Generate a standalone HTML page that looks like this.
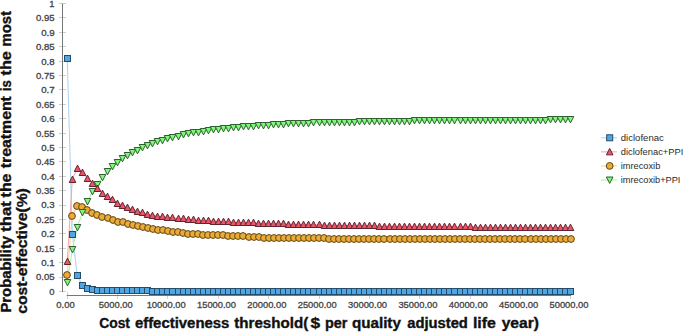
<!DOCTYPE html><html><head><meta charset="utf-8"><style>html,body{margin:0;padding:0;background:#fff;width:685px;height:332px;overflow:hidden}</style></head><body><svg width="685" height="332" viewBox="0 0 685 332" style="display:block">
<line x1="59" y1="291.50" x2="66" y2="291.50" stroke="#cfcfcf" stroke-width="1"/>
<text x="54.6" y="294.80" text-anchor="end" font-size="9" fill="#444" stroke="#444" stroke-width="0.3" font-family="Liberation Sans, sans-serif" textLength="5.22" lengthAdjust="spacingAndGlyphs">0</text>
<line x1="59" y1="277.50" x2="66" y2="277.50" stroke="#cfcfcf" stroke-width="1"/>
<text x="54.6" y="280.41" text-anchor="end" font-size="9" fill="#444" stroke="#444" stroke-width="0.3" font-family="Liberation Sans, sans-serif" textLength="18.63" lengthAdjust="spacingAndGlyphs">0.05</text>
<line x1="59" y1="262.50" x2="66" y2="262.50" stroke="#cfcfcf" stroke-width="1"/>
<text x="54.6" y="266.02" text-anchor="end" font-size="9" fill="#444" stroke="#444" stroke-width="0.3" font-family="Liberation Sans, sans-serif" textLength="13.42" lengthAdjust="spacingAndGlyphs">0.1</text>
<line x1="59" y1="248.50" x2="66" y2="248.50" stroke="#cfcfcf" stroke-width="1"/>
<text x="54.6" y="251.63" text-anchor="end" font-size="9" fill="#444" stroke="#444" stroke-width="0.3" font-family="Liberation Sans, sans-serif" textLength="18.63" lengthAdjust="spacingAndGlyphs">0.15</text>
<line x1="59" y1="233.50" x2="66" y2="233.50" stroke="#cfcfcf" stroke-width="1"/>
<text x="54.6" y="237.24" text-anchor="end" font-size="9" fill="#444" stroke="#444" stroke-width="0.3" font-family="Liberation Sans, sans-serif" textLength="13.42" lengthAdjust="spacingAndGlyphs">0.2</text>
<line x1="59" y1="219.50" x2="66" y2="219.50" stroke="#cfcfcf" stroke-width="1"/>
<text x="54.6" y="222.85" text-anchor="end" font-size="9" fill="#444" stroke="#444" stroke-width="0.3" font-family="Liberation Sans, sans-serif" textLength="18.63" lengthAdjust="spacingAndGlyphs">0.25</text>
<line x1="59" y1="205.50" x2="66" y2="205.50" stroke="#cfcfcf" stroke-width="1"/>
<text x="54.6" y="208.46" text-anchor="end" font-size="9" fill="#444" stroke="#444" stroke-width="0.3" font-family="Liberation Sans, sans-serif" textLength="13.42" lengthAdjust="spacingAndGlyphs">0.3</text>
<line x1="59" y1="190.50" x2="66" y2="190.50" stroke="#cfcfcf" stroke-width="1"/>
<text x="54.6" y="194.07" text-anchor="end" font-size="9" fill="#444" stroke="#444" stroke-width="0.3" font-family="Liberation Sans, sans-serif" textLength="18.63" lengthAdjust="spacingAndGlyphs">0.35</text>
<line x1="59" y1="176.50" x2="66" y2="176.50" stroke="#cfcfcf" stroke-width="1"/>
<text x="54.6" y="179.68" text-anchor="end" font-size="9" fill="#444" stroke="#444" stroke-width="0.3" font-family="Liberation Sans, sans-serif" textLength="13.42" lengthAdjust="spacingAndGlyphs">0.4</text>
<line x1="59" y1="161.50" x2="66" y2="161.50" stroke="#cfcfcf" stroke-width="1"/>
<text x="54.6" y="165.29" text-anchor="end" font-size="9" fill="#444" stroke="#444" stroke-width="0.3" font-family="Liberation Sans, sans-serif" textLength="18.63" lengthAdjust="spacingAndGlyphs">0.45</text>
<line x1="59" y1="147.50" x2="66" y2="147.50" stroke="#cfcfcf" stroke-width="1"/>
<text x="54.6" y="150.90" text-anchor="end" font-size="9" fill="#444" stroke="#444" stroke-width="0.3" font-family="Liberation Sans, sans-serif" textLength="13.42" lengthAdjust="spacingAndGlyphs">0.5</text>
<line x1="59" y1="133.50" x2="66" y2="133.50" stroke="#cfcfcf" stroke-width="1"/>
<text x="54.6" y="136.51" text-anchor="end" font-size="9" fill="#444" stroke="#444" stroke-width="0.3" font-family="Liberation Sans, sans-serif" textLength="18.63" lengthAdjust="spacingAndGlyphs">0.55</text>
<line x1="59" y1="118.50" x2="66" y2="118.50" stroke="#cfcfcf" stroke-width="1"/>
<text x="54.6" y="122.12" text-anchor="end" font-size="9" fill="#444" stroke="#444" stroke-width="0.3" font-family="Liberation Sans, sans-serif" textLength="13.42" lengthAdjust="spacingAndGlyphs">0.6</text>
<line x1="59" y1="104.50" x2="66" y2="104.50" stroke="#cfcfcf" stroke-width="1"/>
<text x="54.6" y="107.73" text-anchor="end" font-size="9" fill="#444" stroke="#444" stroke-width="0.3" font-family="Liberation Sans, sans-serif" textLength="18.63" lengthAdjust="spacingAndGlyphs">0.65</text>
<line x1="59" y1="89.50" x2="66" y2="89.50" stroke="#cfcfcf" stroke-width="1"/>
<text x="54.6" y="93.34" text-anchor="end" font-size="9" fill="#444" stroke="#444" stroke-width="0.3" font-family="Liberation Sans, sans-serif" textLength="13.42" lengthAdjust="spacingAndGlyphs">0.7</text>
<line x1="59" y1="75.50" x2="66" y2="75.50" stroke="#cfcfcf" stroke-width="1"/>
<text x="54.6" y="78.95" text-anchor="end" font-size="9" fill="#444" stroke="#444" stroke-width="0.3" font-family="Liberation Sans, sans-serif" textLength="18.63" lengthAdjust="spacingAndGlyphs">0.75</text>
<line x1="59" y1="61.50" x2="66" y2="61.50" stroke="#cfcfcf" stroke-width="1"/>
<text x="54.6" y="64.56" text-anchor="end" font-size="9" fill="#444" stroke="#444" stroke-width="0.3" font-family="Liberation Sans, sans-serif" textLength="13.42" lengthAdjust="spacingAndGlyphs">0.8</text>
<line x1="59" y1="46.50" x2="66" y2="46.50" stroke="#cfcfcf" stroke-width="1"/>
<text x="54.6" y="50.17" text-anchor="end" font-size="9" fill="#444" stroke="#444" stroke-width="0.3" font-family="Liberation Sans, sans-serif" textLength="18.63" lengthAdjust="spacingAndGlyphs">0.85</text>
<line x1="59" y1="32.50" x2="66" y2="32.50" stroke="#cfcfcf" stroke-width="1"/>
<text x="54.6" y="35.78" text-anchor="end" font-size="9" fill="#444" stroke="#444" stroke-width="0.3" font-family="Liberation Sans, sans-serif" textLength="13.42" lengthAdjust="spacingAndGlyphs">0.9</text>
<line x1="59" y1="17.50" x2="66" y2="17.50" stroke="#cfcfcf" stroke-width="1"/>
<text x="54.6" y="21.39" text-anchor="end" font-size="9" fill="#444" stroke="#444" stroke-width="0.3" font-family="Liberation Sans, sans-serif" textLength="18.63" lengthAdjust="spacingAndGlyphs">0.95</text>
<line x1="59" y1="3.50" x2="66" y2="3.50" stroke="#cfcfcf" stroke-width="1"/>
<text x="54.6" y="7.00" text-anchor="end" font-size="9" fill="#444" stroke="#444" stroke-width="0.3" font-family="Liberation Sans, sans-serif" textLength="5.22" lengthAdjust="spacingAndGlyphs">1</text>
<line x1="62.5" y1="3.60" x2="62.5" y2="291.90" stroke="#777" stroke-width="1"/>
<line x1="67.50" y1="292" x2="67.50" y2="299" stroke="#cfcfcf" stroke-width="1"/>
<text x="65.45" y="308.1" text-anchor="middle" font-size="9" fill="#444" stroke="#444" stroke-width="0.3" font-family="Liberation Sans, sans-serif" textLength="18.40" lengthAdjust="spacingAndGlyphs">0.00</text>
<line x1="117.50" y1="292" x2="117.50" y2="299" stroke="#cfcfcf" stroke-width="1"/>
<text x="115.80" y="308.1" text-anchor="middle" font-size="9" fill="#444" stroke="#444" stroke-width="0.3" font-family="Liberation Sans, sans-serif" textLength="33.86" lengthAdjust="spacingAndGlyphs">5000.00</text>
<line x1="167.50" y1="292" x2="167.50" y2="299" stroke="#cfcfcf" stroke-width="1"/>
<text x="166.16" y="308.1" text-anchor="middle" font-size="9" fill="#444" stroke="#444" stroke-width="0.3" font-family="Liberation Sans, sans-serif" textLength="39.01" lengthAdjust="spacingAndGlyphs">10000.00</text>
<line x1="218.50" y1="292" x2="218.50" y2="299" stroke="#cfcfcf" stroke-width="1"/>
<text x="216.51" y="308.1" text-anchor="middle" font-size="9" fill="#444" stroke="#444" stroke-width="0.3" font-family="Liberation Sans, sans-serif" textLength="39.01" lengthAdjust="spacingAndGlyphs">15000.00</text>
<line x1="268.50" y1="292" x2="268.50" y2="299" stroke="#cfcfcf" stroke-width="1"/>
<text x="266.87" y="308.1" text-anchor="middle" font-size="9" fill="#444" stroke="#444" stroke-width="0.3" font-family="Liberation Sans, sans-serif" textLength="39.01" lengthAdjust="spacingAndGlyphs">20000.00</text>
<line x1="319.50" y1="292" x2="319.50" y2="299" stroke="#cfcfcf" stroke-width="1"/>
<text x="317.22" y="308.1" text-anchor="middle" font-size="9" fill="#444" stroke="#444" stroke-width="0.3" font-family="Liberation Sans, sans-serif" textLength="39.01" lengthAdjust="spacingAndGlyphs">25000.00</text>
<line x1="369.50" y1="292" x2="369.50" y2="299" stroke="#cfcfcf" stroke-width="1"/>
<text x="367.58" y="308.1" text-anchor="middle" font-size="9" fill="#444" stroke="#444" stroke-width="0.3" font-family="Liberation Sans, sans-serif" textLength="39.01" lengthAdjust="spacingAndGlyphs">30000.00</text>
<line x1="419.50" y1="292" x2="419.50" y2="299" stroke="#cfcfcf" stroke-width="1"/>
<text x="417.94" y="308.1" text-anchor="middle" font-size="9" fill="#444" stroke="#444" stroke-width="0.3" font-family="Liberation Sans, sans-serif" textLength="39.01" lengthAdjust="spacingAndGlyphs">35000.00</text>
<line x1="470.50" y1="292" x2="470.50" y2="299" stroke="#cfcfcf" stroke-width="1"/>
<text x="468.29" y="308.1" text-anchor="middle" font-size="9" fill="#444" stroke="#444" stroke-width="0.3" font-family="Liberation Sans, sans-serif" textLength="39.01" lengthAdjust="spacingAndGlyphs">40000.00</text>
<line x1="520.50" y1="292" x2="520.50" y2="299" stroke="#cfcfcf" stroke-width="1"/>
<text x="518.64" y="308.1" text-anchor="middle" font-size="9" fill="#444" stroke="#444" stroke-width="0.3" font-family="Liberation Sans, sans-serif" textLength="39.01" lengthAdjust="spacingAndGlyphs">45000.00</text>
<line x1="570.50" y1="292" x2="570.50" y2="299" stroke="#cfcfcf" stroke-width="1"/>
<text x="569.00" y="308.1" text-anchor="middle" font-size="9" fill="#444" stroke="#444" stroke-width="0.3" font-family="Liberation Sans, sans-serif" textLength="39.01" lengthAdjust="spacingAndGlyphs">50000.00</text>
<line x1="66.75" y1="295.5" x2="571.30" y2="295.5" stroke="#777" stroke-width="1"/>
<path d="M67.25 58.57L72.29 234.13L77.32 275.71L82.36 285.64L87.39 288.09L92.43 289.39L97.46 290.10L102.50 290.31L107.53 290.45L112.57 290.54L117.60 290.54L122.64 290.54L127.68 290.54L132.71 290.54L137.75 290.54L142.78 290.54L147.82 290.54L152.85 291.17L157.89 291.17L162.92 291.17L167.96 291.17L173.00 291.17L178.03 291.17L183.07 291.17L188.10 291.17L193.14 291.17L198.17 291.17L203.21 291.17L208.24 291.17L213.28 291.17L218.31 291.17L223.35 291.17L228.39 291.17L233.42 291.17L238.46 291.17L243.49 291.17L248.53 291.17L253.56 291.17L258.60 291.17L263.63 291.17L268.67 291.17L273.71 291.17L278.74 291.17L283.78 291.17L288.81 291.17L293.85 291.17L298.88 291.17L303.92 291.17L308.95 291.17L313.99 291.17L319.02 291.17L324.06 291.17L329.10 291.17L334.13 291.17L339.17 291.17L344.20 291.17L349.24 291.17L354.27 291.17L359.31 291.17L364.34 291.17L369.38 291.17L374.42 291.17L379.45 291.17L384.49 291.17L389.52 291.17L394.56 291.17L399.59 291.17L404.63 291.17L409.66 291.17L414.70 291.17L419.74 291.17L424.77 291.17L429.81 291.17L434.84 291.17L439.88 291.17L444.91 291.17L449.95 291.17L454.98 291.17L460.02 291.17L465.05 291.17L470.09 291.17L475.13 291.17L480.16 291.17L485.20 291.17L490.23 291.17L495.27 291.17L500.30 291.17L505.34 291.17L510.37 291.17L515.41 291.17L520.44 291.17L525.48 291.17L530.52 291.17L535.55 291.17L540.59 291.17L545.62 291.17L550.66 291.17L555.69 291.17L560.73 291.17L565.76 291.17L570.80 291.17" fill="none" stroke="#a8d2f2" stroke-width="1"/>
<path d="M67.25 275.00L72.29 216.00L77.32 205.64L82.36 207.30L87.39 209.66L92.43 213.12L97.46 215.42L102.50 216.86L107.53 218.30L112.57 219.74L117.60 221.61L122.64 222.41L127.68 223.91L132.71 225.41L137.75 226.10L142.78 226.93L147.82 228.00L152.85 228.89L157.89 229.61L162.92 229.90L167.96 230.67L173.00 231.60L178.03 232.20L183.07 232.89L188.10 233.70L193.14 234.08L198.17 234.40L203.21 234.66L208.24 234.88L213.28 235.07L218.31 235.24L223.35 235.44L228.39 235.65L233.42 235.87L238.46 236.13L243.49 236.42L248.53 236.72L253.56 237.03L258.60 237.33L263.63 237.62L268.67 237.88L273.71 238.07L278.74 238.22L283.78 238.30L288.81 238.34L293.85 238.37L298.88 238.39L303.92 238.41L308.95 238.43L313.99 238.44L319.02 238.46L324.06 238.48L329.10 238.51L334.13 238.54L339.17 238.59L344.20 238.64L349.24 238.69L354.27 238.75L359.31 238.81L364.34 238.87L369.38 238.92L374.42 238.97L379.45 239.00L384.49 239.03L389.52 239.06L394.56 239.09L399.59 239.12L404.63 239.15L409.66 239.18L414.70 239.20L419.74 239.23L424.77 239.25L429.81 239.27L434.84 239.29L439.88 239.31L444.91 239.33L449.95 239.35L454.98 239.36L460.02 239.37L465.05 239.39L470.09 239.40L475.13 239.41L480.16 239.41L485.20 239.42L490.23 239.43L495.27 239.43L500.30 239.44L505.34 239.45L510.37 239.45L515.41 239.46L520.44 239.46L525.48 239.47L530.52 239.47L535.55 239.48L540.59 239.48L545.62 239.49L550.66 239.49L555.69 239.49L560.73 239.49L565.76 239.49L570.80 239.49" fill="none" stroke="#f7d08e" stroke-width="1"/>
<path d="M67.25 282.40L72.29 249.52L77.32 227.34L82.36 212.77L87.39 201.93L92.43 191.38L97.46 184.29L102.50 177.66L107.53 171.60L112.57 166.43L117.60 162.09L122.64 158.13L127.68 155.10L132.71 152.32L137.75 150.11L142.78 147.20L147.82 145.07L152.85 143.34L157.89 141.62L162.92 140.01L167.96 138.74L173.00 137.59L178.03 136.14L183.07 134.78L188.10 133.83L193.14 132.99L198.17 132.21L203.21 131.40L208.24 130.63L213.28 129.89L218.31 129.18L223.35 128.74L228.39 128.29L233.42 127.84L238.46 127.40L243.49 126.96L248.53 126.53L253.56 126.12L258.60 125.73L263.63 125.36L268.67 125.01L273.71 124.69L278.74 124.39L283.78 124.13L288.81 123.89L293.85 123.67L298.88 123.47L303.92 123.28L308.95 123.10L313.99 122.94L319.02 122.79L324.06 122.66L329.10 122.54L334.13 122.42L339.17 122.32L344.20 122.22L349.24 122.13L354.27 122.05L359.31 121.96L364.34 121.88L369.38 121.80L374.42 121.71L379.45 121.62L384.49 121.53L389.52 121.43L394.56 121.32L399.59 121.22L404.63 121.11L409.66 121.00L414.70 120.90L419.74 120.79L424.77 120.70L429.81 120.61L434.84 120.52L439.88 120.45L444.91 120.38L449.95 120.33L454.98 120.29L460.02 120.26L465.05 120.25L470.09 120.24L475.13 120.23L480.16 120.23L485.20 120.22L490.23 120.22L495.27 120.21L500.30 120.21L505.34 120.21L510.37 120.20L515.41 120.19L520.44 120.18L525.48 120.16L530.52 120.14L535.55 120.11L540.59 120.07L545.62 120.04L550.66 119.99L555.69 119.95L560.73 119.90L565.76 119.85L570.80 119.80" fill="none" stroke="#a8f0a4" stroke-width="1"/>
<path d="M67.25 261.61L72.29 179.45L77.32 168.22L82.36 172.25L87.39 178.29L92.43 183.47L97.46 188.94L102.50 193.55L107.53 196.71L112.57 199.88L117.60 203.33L122.64 205.78L127.68 207.36L132.71 209.63L137.75 211.03L142.78 212.75L147.82 214.31L152.85 215.35L157.89 216.09L162.92 216.90L167.96 217.36L173.00 217.89L178.03 218.27L183.07 218.94L188.10 219.32L193.14 219.69L198.17 220.05L203.21 220.40L208.24 220.73L213.28 221.05L218.31 221.35L223.35 221.64L228.39 221.90L233.42 222.14L238.46 222.36L243.49 222.57L248.53 222.76L253.56 222.94L258.60 223.11L263.63 223.28L268.67 223.44L273.71 223.59L278.74 223.75L283.78 223.90L288.81 224.05L293.85 224.20L298.88 224.35L303.92 224.49L308.95 224.63L313.99 224.76L319.02 224.89L324.06 225.02L329.10 225.13L334.13 225.24L339.17 225.35L344.20 225.45L349.24 225.55L354.27 225.65L359.31 225.75L364.34 225.83L369.38 225.92L374.42 225.99L379.45 226.06L384.49 226.13L389.52 226.19L394.56 226.25L399.59 226.32L404.63 226.38L409.66 226.43L414.70 226.49L419.74 226.55L424.77 226.60L429.81 226.65L434.84 226.70L439.88 226.74L444.91 226.79L449.95 226.83L454.98 226.87L460.02 226.90L465.05 226.93L470.09 226.96L475.13 227.03L480.16 227.11L485.20 227.17L490.23 227.24L495.27 227.30L500.30 227.36L505.34 227.42L510.37 227.48L515.41 227.50L520.44 227.51L525.48 227.52L530.52 227.53L535.55 227.55L540.59 227.57L545.62 227.59L550.66 227.62L555.69 227.65L560.73 227.70L565.76 227.74L570.80 227.79" fill="none" stroke="#f5a3b2" stroke-width="1"/>
<rect x="64.50" y="55.50" width="6" height="6" fill="#50a6e2" stroke="#264c6c" stroke-width="1"/>
<rect x="69.50" y="231.50" width="6" height="6" fill="#50a6e2" stroke="#264c6c" stroke-width="1"/>
<rect x="74.50" y="272.50" width="6" height="6" fill="#50a6e2" stroke="#264c6c" stroke-width="1"/>
<rect x="79.50" y="282.50" width="6" height="6" fill="#50a6e2" stroke="#264c6c" stroke-width="1"/>
<rect x="84.50" y="285.50" width="6" height="6" fill="#50a6e2" stroke="#264c6c" stroke-width="1"/>
<rect x="89.50" y="286.50" width="6" height="6" fill="#50a6e2" stroke="#264c6c" stroke-width="1"/>
<rect x="94.50" y="287.50" width="6" height="6" fill="#50a6e2" stroke="#264c6c" stroke-width="1"/>
<rect x="99.50" y="287.50" width="6" height="6" fill="#50a6e2" stroke="#264c6c" stroke-width="1"/>
<rect x="104.50" y="287.50" width="6" height="6" fill="#50a6e2" stroke="#264c6c" stroke-width="1"/>
<rect x="109.50" y="287.50" width="6" height="6" fill="#50a6e2" stroke="#264c6c" stroke-width="1"/>
<rect x="114.50" y="287.50" width="6" height="6" fill="#50a6e2" stroke="#264c6c" stroke-width="1"/>
<rect x="119.50" y="287.50" width="6" height="6" fill="#50a6e2" stroke="#264c6c" stroke-width="1"/>
<rect x="124.50" y="287.50" width="6" height="6" fill="#50a6e2" stroke="#264c6c" stroke-width="1"/>
<rect x="129.50" y="287.50" width="6" height="6" fill="#50a6e2" stroke="#264c6c" stroke-width="1"/>
<rect x="134.50" y="287.50" width="6" height="6" fill="#50a6e2" stroke="#264c6c" stroke-width="1"/>
<rect x="139.50" y="287.50" width="6" height="6" fill="#50a6e2" stroke="#264c6c" stroke-width="1"/>
<rect x="144.50" y="287.50" width="6" height="6" fill="#50a6e2" stroke="#264c6c" stroke-width="1"/>
<rect x="149.50" y="288.50" width="6" height="6" fill="#50a6e2" stroke="#264c6c" stroke-width="1"/>
<rect x="154.50" y="288.50" width="6" height="6" fill="#50a6e2" stroke="#264c6c" stroke-width="1"/>
<rect x="159.50" y="288.50" width="6" height="6" fill="#50a6e2" stroke="#264c6c" stroke-width="1"/>
<rect x="164.50" y="288.50" width="6" height="6" fill="#50a6e2" stroke="#264c6c" stroke-width="1"/>
<rect x="169.50" y="288.50" width="6" height="6" fill="#50a6e2" stroke="#264c6c" stroke-width="1"/>
<rect x="175.50" y="288.50" width="6" height="6" fill="#50a6e2" stroke="#264c6c" stroke-width="1"/>
<rect x="180.50" y="288.50" width="6" height="6" fill="#50a6e2" stroke="#264c6c" stroke-width="1"/>
<rect x="185.50" y="288.50" width="6" height="6" fill="#50a6e2" stroke="#264c6c" stroke-width="1"/>
<rect x="190.50" y="288.50" width="6" height="6" fill="#50a6e2" stroke="#264c6c" stroke-width="1"/>
<rect x="195.50" y="288.50" width="6" height="6" fill="#50a6e2" stroke="#264c6c" stroke-width="1"/>
<rect x="200.50" y="288.50" width="6" height="6" fill="#50a6e2" stroke="#264c6c" stroke-width="1"/>
<rect x="205.50" y="288.50" width="6" height="6" fill="#50a6e2" stroke="#264c6c" stroke-width="1"/>
<rect x="210.50" y="288.50" width="6" height="6" fill="#50a6e2" stroke="#264c6c" stroke-width="1"/>
<rect x="215.50" y="288.50" width="6" height="6" fill="#50a6e2" stroke="#264c6c" stroke-width="1"/>
<rect x="220.50" y="288.50" width="6" height="6" fill="#50a6e2" stroke="#264c6c" stroke-width="1"/>
<rect x="225.50" y="288.50" width="6" height="6" fill="#50a6e2" stroke="#264c6c" stroke-width="1"/>
<rect x="230.50" y="288.50" width="6" height="6" fill="#50a6e2" stroke="#264c6c" stroke-width="1"/>
<rect x="235.50" y="288.50" width="6" height="6" fill="#50a6e2" stroke="#264c6c" stroke-width="1"/>
<rect x="240.50" y="288.50" width="6" height="6" fill="#50a6e2" stroke="#264c6c" stroke-width="1"/>
<rect x="245.50" y="288.50" width="6" height="6" fill="#50a6e2" stroke="#264c6c" stroke-width="1"/>
<rect x="250.50" y="288.50" width="6" height="6" fill="#50a6e2" stroke="#264c6c" stroke-width="1"/>
<rect x="255.50" y="288.50" width="6" height="6" fill="#50a6e2" stroke="#264c6c" stroke-width="1"/>
<rect x="260.50" y="288.50" width="6" height="6" fill="#50a6e2" stroke="#264c6c" stroke-width="1"/>
<rect x="265.50" y="288.50" width="6" height="6" fill="#50a6e2" stroke="#264c6c" stroke-width="1"/>
<rect x="270.50" y="288.50" width="6" height="6" fill="#50a6e2" stroke="#264c6c" stroke-width="1"/>
<rect x="275.50" y="288.50" width="6" height="6" fill="#50a6e2" stroke="#264c6c" stroke-width="1"/>
<rect x="280.50" y="288.50" width="6" height="6" fill="#50a6e2" stroke="#264c6c" stroke-width="1"/>
<rect x="285.50" y="288.50" width="6" height="6" fill="#50a6e2" stroke="#264c6c" stroke-width="1"/>
<rect x="290.50" y="288.50" width="6" height="6" fill="#50a6e2" stroke="#264c6c" stroke-width="1"/>
<rect x="295.50" y="288.50" width="6" height="6" fill="#50a6e2" stroke="#264c6c" stroke-width="1"/>
<rect x="300.50" y="288.50" width="6" height="6" fill="#50a6e2" stroke="#264c6c" stroke-width="1"/>
<rect x="305.50" y="288.50" width="6" height="6" fill="#50a6e2" stroke="#264c6c" stroke-width="1"/>
<rect x="310.50" y="288.50" width="6" height="6" fill="#50a6e2" stroke="#264c6c" stroke-width="1"/>
<rect x="316.50" y="288.50" width="6" height="6" fill="#50a6e2" stroke="#264c6c" stroke-width="1"/>
<rect x="321.50" y="288.50" width="6" height="6" fill="#50a6e2" stroke="#264c6c" stroke-width="1"/>
<rect x="326.50" y="288.50" width="6" height="6" fill="#50a6e2" stroke="#264c6c" stroke-width="1"/>
<rect x="331.50" y="288.50" width="6" height="6" fill="#50a6e2" stroke="#264c6c" stroke-width="1"/>
<rect x="336.50" y="288.50" width="6" height="6" fill="#50a6e2" stroke="#264c6c" stroke-width="1"/>
<rect x="341.50" y="288.50" width="6" height="6" fill="#50a6e2" stroke="#264c6c" stroke-width="1"/>
<rect x="346.50" y="288.50" width="6" height="6" fill="#50a6e2" stroke="#264c6c" stroke-width="1"/>
<rect x="351.50" y="288.50" width="6" height="6" fill="#50a6e2" stroke="#264c6c" stroke-width="1"/>
<rect x="356.50" y="288.50" width="6" height="6" fill="#50a6e2" stroke="#264c6c" stroke-width="1"/>
<rect x="361.50" y="288.50" width="6" height="6" fill="#50a6e2" stroke="#264c6c" stroke-width="1"/>
<rect x="366.50" y="288.50" width="6" height="6" fill="#50a6e2" stroke="#264c6c" stroke-width="1"/>
<rect x="371.50" y="288.50" width="6" height="6" fill="#50a6e2" stroke="#264c6c" stroke-width="1"/>
<rect x="376.50" y="288.50" width="6" height="6" fill="#50a6e2" stroke="#264c6c" stroke-width="1"/>
<rect x="381.50" y="288.50" width="6" height="6" fill="#50a6e2" stroke="#264c6c" stroke-width="1"/>
<rect x="386.50" y="288.50" width="6" height="6" fill="#50a6e2" stroke="#264c6c" stroke-width="1"/>
<rect x="391.50" y="288.50" width="6" height="6" fill="#50a6e2" stroke="#264c6c" stroke-width="1"/>
<rect x="396.50" y="288.50" width="6" height="6" fill="#50a6e2" stroke="#264c6c" stroke-width="1"/>
<rect x="401.50" y="288.50" width="6" height="6" fill="#50a6e2" stroke="#264c6c" stroke-width="1"/>
<rect x="406.50" y="288.50" width="6" height="6" fill="#50a6e2" stroke="#264c6c" stroke-width="1"/>
<rect x="411.50" y="288.50" width="6" height="6" fill="#50a6e2" stroke="#264c6c" stroke-width="1"/>
<rect x="416.50" y="288.50" width="6" height="6" fill="#50a6e2" stroke="#264c6c" stroke-width="1"/>
<rect x="421.50" y="288.50" width="6" height="6" fill="#50a6e2" stroke="#264c6c" stroke-width="1"/>
<rect x="426.50" y="288.50" width="6" height="6" fill="#50a6e2" stroke="#264c6c" stroke-width="1"/>
<rect x="431.50" y="288.50" width="6" height="6" fill="#50a6e2" stroke="#264c6c" stroke-width="1"/>
<rect x="436.50" y="288.50" width="6" height="6" fill="#50a6e2" stroke="#264c6c" stroke-width="1"/>
<rect x="441.50" y="288.50" width="6" height="6" fill="#50a6e2" stroke="#264c6c" stroke-width="1"/>
<rect x="446.50" y="288.50" width="6" height="6" fill="#50a6e2" stroke="#264c6c" stroke-width="1"/>
<rect x="451.50" y="288.50" width="6" height="6" fill="#50a6e2" stroke="#264c6c" stroke-width="1"/>
<rect x="457.50" y="288.50" width="6" height="6" fill="#50a6e2" stroke="#264c6c" stroke-width="1"/>
<rect x="462.50" y="288.50" width="6" height="6" fill="#50a6e2" stroke="#264c6c" stroke-width="1"/>
<rect x="467.50" y="288.50" width="6" height="6" fill="#50a6e2" stroke="#264c6c" stroke-width="1"/>
<rect x="472.50" y="288.50" width="6" height="6" fill="#50a6e2" stroke="#264c6c" stroke-width="1"/>
<rect x="477.50" y="288.50" width="6" height="6" fill="#50a6e2" stroke="#264c6c" stroke-width="1"/>
<rect x="482.50" y="288.50" width="6" height="6" fill="#50a6e2" stroke="#264c6c" stroke-width="1"/>
<rect x="487.50" y="288.50" width="6" height="6" fill="#50a6e2" stroke="#264c6c" stroke-width="1"/>
<rect x="492.50" y="288.50" width="6" height="6" fill="#50a6e2" stroke="#264c6c" stroke-width="1"/>
<rect x="497.50" y="288.50" width="6" height="6" fill="#50a6e2" stroke="#264c6c" stroke-width="1"/>
<rect x="502.50" y="288.50" width="6" height="6" fill="#50a6e2" stroke="#264c6c" stroke-width="1"/>
<rect x="507.50" y="288.50" width="6" height="6" fill="#50a6e2" stroke="#264c6c" stroke-width="1"/>
<rect x="512.50" y="288.50" width="6" height="6" fill="#50a6e2" stroke="#264c6c" stroke-width="1"/>
<rect x="517.50" y="288.50" width="6" height="6" fill="#50a6e2" stroke="#264c6c" stroke-width="1"/>
<rect x="522.50" y="288.50" width="6" height="6" fill="#50a6e2" stroke="#264c6c" stroke-width="1"/>
<rect x="527.50" y="288.50" width="6" height="6" fill="#50a6e2" stroke="#264c6c" stroke-width="1"/>
<rect x="532.50" y="288.50" width="6" height="6" fill="#50a6e2" stroke="#264c6c" stroke-width="1"/>
<rect x="537.50" y="288.50" width="6" height="6" fill="#50a6e2" stroke="#264c6c" stroke-width="1"/>
<rect x="542.50" y="288.50" width="6" height="6" fill="#50a6e2" stroke="#264c6c" stroke-width="1"/>
<rect x="547.50" y="288.50" width="6" height="6" fill="#50a6e2" stroke="#264c6c" stroke-width="1"/>
<rect x="552.50" y="288.50" width="6" height="6" fill="#50a6e2" stroke="#264c6c" stroke-width="1"/>
<rect x="557.50" y="288.50" width="6" height="6" fill="#50a6e2" stroke="#264c6c" stroke-width="1"/>
<rect x="562.50" y="288.50" width="6" height="6" fill="#50a6e2" stroke="#264c6c" stroke-width="1"/>
<rect x="567.50" y="288.50" width="6" height="6" fill="#50a6e2" stroke="#264c6c" stroke-width="1"/>
<circle cx="67.00" cy="275.00" r="3.4" fill="#ebab36" stroke="#5e4618" stroke-width="1"/>
<circle cx="72.00" cy="216.00" r="3.4" fill="#ebab36" stroke="#5e4618" stroke-width="1"/>
<circle cx="77.00" cy="206.00" r="3.4" fill="#ebab36" stroke="#5e4618" stroke-width="1"/>
<circle cx="82.00" cy="207.00" r="3.4" fill="#ebab36" stroke="#5e4618" stroke-width="1"/>
<circle cx="87.00" cy="210.00" r="3.4" fill="#ebab36" stroke="#5e4618" stroke-width="1"/>
<circle cx="92.00" cy="213.00" r="3.4" fill="#ebab36" stroke="#5e4618" stroke-width="1"/>
<circle cx="97.00" cy="215.00" r="3.4" fill="#ebab36" stroke="#5e4618" stroke-width="1"/>
<circle cx="102.00" cy="217.00" r="3.4" fill="#ebab36" stroke="#5e4618" stroke-width="1"/>
<circle cx="108.00" cy="218.00" r="3.4" fill="#ebab36" stroke="#5e4618" stroke-width="1"/>
<circle cx="113.00" cy="220.00" r="3.4" fill="#ebab36" stroke="#5e4618" stroke-width="1"/>
<circle cx="118.00" cy="222.00" r="3.4" fill="#ebab36" stroke="#5e4618" stroke-width="1"/>
<circle cx="123.00" cy="222.00" r="3.4" fill="#ebab36" stroke="#5e4618" stroke-width="1"/>
<circle cx="128.00" cy="224.00" r="3.4" fill="#ebab36" stroke="#5e4618" stroke-width="1"/>
<circle cx="133.00" cy="225.00" r="3.4" fill="#ebab36" stroke="#5e4618" stroke-width="1"/>
<circle cx="138.00" cy="226.00" r="3.4" fill="#ebab36" stroke="#5e4618" stroke-width="1"/>
<circle cx="143.00" cy="227.00" r="3.4" fill="#ebab36" stroke="#5e4618" stroke-width="1"/>
<circle cx="148.00" cy="228.00" r="3.4" fill="#ebab36" stroke="#5e4618" stroke-width="1"/>
<circle cx="153.00" cy="229.00" r="3.4" fill="#ebab36" stroke="#5e4618" stroke-width="1"/>
<circle cx="158.00" cy="230.00" r="3.4" fill="#ebab36" stroke="#5e4618" stroke-width="1"/>
<circle cx="163.00" cy="230.00" r="3.4" fill="#ebab36" stroke="#5e4618" stroke-width="1"/>
<circle cx="168.00" cy="231.00" r="3.4" fill="#ebab36" stroke="#5e4618" stroke-width="1"/>
<circle cx="173.00" cy="232.00" r="3.4" fill="#ebab36" stroke="#5e4618" stroke-width="1"/>
<circle cx="178.00" cy="232.00" r="3.4" fill="#ebab36" stroke="#5e4618" stroke-width="1"/>
<circle cx="183.00" cy="233.00" r="3.4" fill="#ebab36" stroke="#5e4618" stroke-width="1"/>
<circle cx="188.00" cy="234.00" r="3.4" fill="#ebab36" stroke="#5e4618" stroke-width="1"/>
<circle cx="193.00" cy="234.00" r="3.4" fill="#ebab36" stroke="#5e4618" stroke-width="1"/>
<circle cx="198.00" cy="234.00" r="3.4" fill="#ebab36" stroke="#5e4618" stroke-width="1"/>
<circle cx="203.00" cy="235.00" r="3.4" fill="#ebab36" stroke="#5e4618" stroke-width="1"/>
<circle cx="208.00" cy="235.00" r="3.4" fill="#ebab36" stroke="#5e4618" stroke-width="1"/>
<circle cx="213.00" cy="235.00" r="3.4" fill="#ebab36" stroke="#5e4618" stroke-width="1"/>
<circle cx="218.00" cy="235.00" r="3.4" fill="#ebab36" stroke="#5e4618" stroke-width="1"/>
<circle cx="223.00" cy="235.00" r="3.4" fill="#ebab36" stroke="#5e4618" stroke-width="1"/>
<circle cx="228.00" cy="236.00" r="3.4" fill="#ebab36" stroke="#5e4618" stroke-width="1"/>
<circle cx="233.00" cy="236.00" r="3.4" fill="#ebab36" stroke="#5e4618" stroke-width="1"/>
<circle cx="238.00" cy="236.00" r="3.4" fill="#ebab36" stroke="#5e4618" stroke-width="1"/>
<circle cx="243.00" cy="236.00" r="3.4" fill="#ebab36" stroke="#5e4618" stroke-width="1"/>
<circle cx="249.00" cy="237.00" r="3.4" fill="#ebab36" stroke="#5e4618" stroke-width="1"/>
<circle cx="254.00" cy="237.00" r="3.4" fill="#ebab36" stroke="#5e4618" stroke-width="1"/>
<circle cx="259.00" cy="237.00" r="3.4" fill="#ebab36" stroke="#5e4618" stroke-width="1"/>
<circle cx="264.00" cy="238.00" r="3.4" fill="#ebab36" stroke="#5e4618" stroke-width="1"/>
<circle cx="269.00" cy="238.00" r="3.4" fill="#ebab36" stroke="#5e4618" stroke-width="1"/>
<circle cx="274.00" cy="238.00" r="3.4" fill="#ebab36" stroke="#5e4618" stroke-width="1"/>
<circle cx="279.00" cy="238.00" r="3.4" fill="#ebab36" stroke="#5e4618" stroke-width="1"/>
<circle cx="284.00" cy="238.00" r="3.4" fill="#ebab36" stroke="#5e4618" stroke-width="1"/>
<circle cx="289.00" cy="238.00" r="3.4" fill="#ebab36" stroke="#5e4618" stroke-width="1"/>
<circle cx="294.00" cy="238.00" r="3.4" fill="#ebab36" stroke="#5e4618" stroke-width="1"/>
<circle cx="299.00" cy="238.00" r="3.4" fill="#ebab36" stroke="#5e4618" stroke-width="1"/>
<circle cx="304.00" cy="238.00" r="3.4" fill="#ebab36" stroke="#5e4618" stroke-width="1"/>
<circle cx="309.00" cy="238.00" r="3.4" fill="#ebab36" stroke="#5e4618" stroke-width="1"/>
<circle cx="314.00" cy="238.00" r="3.4" fill="#ebab36" stroke="#5e4618" stroke-width="1"/>
<circle cx="319.00" cy="238.00" r="3.4" fill="#ebab36" stroke="#5e4618" stroke-width="1"/>
<circle cx="324.00" cy="238.00" r="3.4" fill="#ebab36" stroke="#5e4618" stroke-width="1"/>
<circle cx="329.00" cy="239.00" r="3.4" fill="#ebab36" stroke="#5e4618" stroke-width="1"/>
<circle cx="334.00" cy="239.00" r="3.4" fill="#ebab36" stroke="#5e4618" stroke-width="1"/>
<circle cx="339.00" cy="239.00" r="3.4" fill="#ebab36" stroke="#5e4618" stroke-width="1"/>
<circle cx="344.00" cy="239.00" r="3.4" fill="#ebab36" stroke="#5e4618" stroke-width="1"/>
<circle cx="349.00" cy="239.00" r="3.4" fill="#ebab36" stroke="#5e4618" stroke-width="1"/>
<circle cx="354.00" cy="239.00" r="3.4" fill="#ebab36" stroke="#5e4618" stroke-width="1"/>
<circle cx="359.00" cy="239.00" r="3.4" fill="#ebab36" stroke="#5e4618" stroke-width="1"/>
<circle cx="364.00" cy="239.00" r="3.4" fill="#ebab36" stroke="#5e4618" stroke-width="1"/>
<circle cx="369.00" cy="239.00" r="3.4" fill="#ebab36" stroke="#5e4618" stroke-width="1"/>
<circle cx="374.00" cy="239.00" r="3.4" fill="#ebab36" stroke="#5e4618" stroke-width="1"/>
<circle cx="379.00" cy="239.00" r="3.4" fill="#ebab36" stroke="#5e4618" stroke-width="1"/>
<circle cx="384.00" cy="239.00" r="3.4" fill="#ebab36" stroke="#5e4618" stroke-width="1"/>
<circle cx="390.00" cy="239.00" r="3.4" fill="#ebab36" stroke="#5e4618" stroke-width="1"/>
<circle cx="395.00" cy="239.00" r="3.4" fill="#ebab36" stroke="#5e4618" stroke-width="1"/>
<circle cx="400.00" cy="239.00" r="3.4" fill="#ebab36" stroke="#5e4618" stroke-width="1"/>
<circle cx="405.00" cy="239.00" r="3.4" fill="#ebab36" stroke="#5e4618" stroke-width="1"/>
<circle cx="410.00" cy="239.00" r="3.4" fill="#ebab36" stroke="#5e4618" stroke-width="1"/>
<circle cx="415.00" cy="239.00" r="3.4" fill="#ebab36" stroke="#5e4618" stroke-width="1"/>
<circle cx="420.00" cy="239.00" r="3.4" fill="#ebab36" stroke="#5e4618" stroke-width="1"/>
<circle cx="425.00" cy="239.00" r="3.4" fill="#ebab36" stroke="#5e4618" stroke-width="1"/>
<circle cx="430.00" cy="239.00" r="3.4" fill="#ebab36" stroke="#5e4618" stroke-width="1"/>
<circle cx="435.00" cy="239.00" r="3.4" fill="#ebab36" stroke="#5e4618" stroke-width="1"/>
<circle cx="440.00" cy="239.00" r="3.4" fill="#ebab36" stroke="#5e4618" stroke-width="1"/>
<circle cx="445.00" cy="239.00" r="3.4" fill="#ebab36" stroke="#5e4618" stroke-width="1"/>
<circle cx="450.00" cy="239.00" r="3.4" fill="#ebab36" stroke="#5e4618" stroke-width="1"/>
<circle cx="455.00" cy="239.00" r="3.4" fill="#ebab36" stroke="#5e4618" stroke-width="1"/>
<circle cx="460.00" cy="239.00" r="3.4" fill="#ebab36" stroke="#5e4618" stroke-width="1"/>
<circle cx="465.00" cy="239.00" r="3.4" fill="#ebab36" stroke="#5e4618" stroke-width="1"/>
<circle cx="470.00" cy="239.00" r="3.4" fill="#ebab36" stroke="#5e4618" stroke-width="1"/>
<circle cx="475.00" cy="239.00" r="3.4" fill="#ebab36" stroke="#5e4618" stroke-width="1"/>
<circle cx="480.00" cy="239.00" r="3.4" fill="#ebab36" stroke="#5e4618" stroke-width="1"/>
<circle cx="485.00" cy="239.00" r="3.4" fill="#ebab36" stroke="#5e4618" stroke-width="1"/>
<circle cx="490.00" cy="239.00" r="3.4" fill="#ebab36" stroke="#5e4618" stroke-width="1"/>
<circle cx="495.00" cy="239.00" r="3.4" fill="#ebab36" stroke="#5e4618" stroke-width="1"/>
<circle cx="500.00" cy="239.00" r="3.4" fill="#ebab36" stroke="#5e4618" stroke-width="1"/>
<circle cx="505.00" cy="239.00" r="3.4" fill="#ebab36" stroke="#5e4618" stroke-width="1"/>
<circle cx="510.00" cy="239.00" r="3.4" fill="#ebab36" stroke="#5e4618" stroke-width="1"/>
<circle cx="515.00" cy="239.00" r="3.4" fill="#ebab36" stroke="#5e4618" stroke-width="1"/>
<circle cx="520.00" cy="239.00" r="3.4" fill="#ebab36" stroke="#5e4618" stroke-width="1"/>
<circle cx="525.00" cy="239.00" r="3.4" fill="#ebab36" stroke="#5e4618" stroke-width="1"/>
<circle cx="531.00" cy="239.00" r="3.4" fill="#ebab36" stroke="#5e4618" stroke-width="1"/>
<circle cx="536.00" cy="239.00" r="3.4" fill="#ebab36" stroke="#5e4618" stroke-width="1"/>
<circle cx="541.00" cy="239.00" r="3.4" fill="#ebab36" stroke="#5e4618" stroke-width="1"/>
<circle cx="546.00" cy="239.00" r="3.4" fill="#ebab36" stroke="#5e4618" stroke-width="1"/>
<circle cx="551.00" cy="239.00" r="3.4" fill="#ebab36" stroke="#5e4618" stroke-width="1"/>
<circle cx="556.00" cy="239.00" r="3.4" fill="#ebab36" stroke="#5e4618" stroke-width="1"/>
<circle cx="561.00" cy="239.00" r="3.4" fill="#ebab36" stroke="#5e4618" stroke-width="1"/>
<circle cx="566.00" cy="239.00" r="3.4" fill="#ebab36" stroke="#5e4618" stroke-width="1"/>
<circle cx="571.00" cy="239.00" r="3.4" fill="#ebab36" stroke="#5e4618" stroke-width="1"/>
<path d="M67.50 285.90L70.80 279.50L64.20 279.50Z" fill="#80f87c" stroke="#2f5f2f" stroke-width="1" stroke-linejoin="round"/>
<path d="M72.50 252.90L75.80 246.50L69.20 246.50Z" fill="#80f87c" stroke="#2f5f2f" stroke-width="1" stroke-linejoin="round"/>
<path d="M77.50 230.90L80.80 224.50L74.20 224.50Z" fill="#80f87c" stroke="#2f5f2f" stroke-width="1" stroke-linejoin="round"/>
<path d="M82.50 215.90L85.80 209.50L79.20 209.50Z" fill="#80f87c" stroke="#2f5f2f" stroke-width="1" stroke-linejoin="round"/>
<path d="M87.50 204.90L90.80 198.50L84.20 198.50Z" fill="#80f87c" stroke="#2f5f2f" stroke-width="1" stroke-linejoin="round"/>
<path d="M92.50 194.90L95.80 188.50L89.20 188.50Z" fill="#80f87c" stroke="#2f5f2f" stroke-width="1" stroke-linejoin="round"/>
<path d="M97.50 187.90L100.80 181.50L94.20 181.50Z" fill="#80f87c" stroke="#2f5f2f" stroke-width="1" stroke-linejoin="round"/>
<path d="M102.50 180.90L105.80 174.50L99.20 174.50Z" fill="#80f87c" stroke="#2f5f2f" stroke-width="1" stroke-linejoin="round"/>
<path d="M107.50 174.90L110.80 168.50L104.20 168.50Z" fill="#80f87c" stroke="#2f5f2f" stroke-width="1" stroke-linejoin="round"/>
<path d="M112.50 169.90L115.80 163.50L109.20 163.50Z" fill="#80f87c" stroke="#2f5f2f" stroke-width="1" stroke-linejoin="round"/>
<path d="M117.50 165.90L120.80 159.50L114.20 159.50Z" fill="#80f87c" stroke="#2f5f2f" stroke-width="1" stroke-linejoin="round"/>
<path d="M122.50 161.90L125.80 155.50L119.20 155.50Z" fill="#80f87c" stroke="#2f5f2f" stroke-width="1" stroke-linejoin="round"/>
<path d="M127.50 158.90L130.80 152.50L124.20 152.50Z" fill="#80f87c" stroke="#2f5f2f" stroke-width="1" stroke-linejoin="round"/>
<path d="M132.50 155.90L135.80 149.50L129.20 149.50Z" fill="#80f87c" stroke="#2f5f2f" stroke-width="1" stroke-linejoin="round"/>
<path d="M137.50 153.90L140.80 147.50L134.20 147.50Z" fill="#80f87c" stroke="#2f5f2f" stroke-width="1" stroke-linejoin="round"/>
<path d="M142.50 150.90L145.80 144.50L139.20 144.50Z" fill="#80f87c" stroke="#2f5f2f" stroke-width="1" stroke-linejoin="round"/>
<path d="M147.50 148.90L150.80 142.50L144.20 142.50Z" fill="#80f87c" stroke="#2f5f2f" stroke-width="1" stroke-linejoin="round"/>
<path d="M152.50 146.90L155.80 140.50L149.20 140.50Z" fill="#80f87c" stroke="#2f5f2f" stroke-width="1" stroke-linejoin="round"/>
<path d="M157.50 144.90L160.80 138.50L154.20 138.50Z" fill="#80f87c" stroke="#2f5f2f" stroke-width="1" stroke-linejoin="round"/>
<path d="M162.50 143.90L165.80 137.50L159.20 137.50Z" fill="#80f87c" stroke="#2f5f2f" stroke-width="1" stroke-linejoin="round"/>
<path d="M167.50 141.90L170.80 135.50L164.20 135.50Z" fill="#80f87c" stroke="#2f5f2f" stroke-width="1" stroke-linejoin="round"/>
<path d="M172.50 140.90L175.80 134.50L169.20 134.50Z" fill="#80f87c" stroke="#2f5f2f" stroke-width="1" stroke-linejoin="round"/>
<path d="M178.50 139.90L181.80 133.50L175.20 133.50Z" fill="#80f87c" stroke="#2f5f2f" stroke-width="1" stroke-linejoin="round"/>
<path d="M183.50 137.90L186.80 131.50L180.20 131.50Z" fill="#80f87c" stroke="#2f5f2f" stroke-width="1" stroke-linejoin="round"/>
<path d="M188.50 136.90L191.80 130.50L185.20 130.50Z" fill="#80f87c" stroke="#2f5f2f" stroke-width="1" stroke-linejoin="round"/>
<path d="M193.50 135.90L196.80 129.50L190.20 129.50Z" fill="#80f87c" stroke="#2f5f2f" stroke-width="1" stroke-linejoin="round"/>
<path d="M198.50 135.90L201.80 129.50L195.20 129.50Z" fill="#80f87c" stroke="#2f5f2f" stroke-width="1" stroke-linejoin="round"/>
<path d="M203.50 134.90L206.80 128.50L200.20 128.50Z" fill="#80f87c" stroke="#2f5f2f" stroke-width="1" stroke-linejoin="round"/>
<path d="M208.50 133.90L211.80 127.50L205.20 127.50Z" fill="#80f87c" stroke="#2f5f2f" stroke-width="1" stroke-linejoin="round"/>
<path d="M213.50 132.90L216.80 126.50L210.20 126.50Z" fill="#80f87c" stroke="#2f5f2f" stroke-width="1" stroke-linejoin="round"/>
<path d="M218.50 132.90L221.80 126.50L215.20 126.50Z" fill="#80f87c" stroke="#2f5f2f" stroke-width="1" stroke-linejoin="round"/>
<path d="M223.50 131.90L226.80 125.50L220.20 125.50Z" fill="#80f87c" stroke="#2f5f2f" stroke-width="1" stroke-linejoin="round"/>
<path d="M228.50 131.90L231.80 125.50L225.20 125.50Z" fill="#80f87c" stroke="#2f5f2f" stroke-width="1" stroke-linejoin="round"/>
<path d="M233.50 130.90L236.80 124.50L230.20 124.50Z" fill="#80f87c" stroke="#2f5f2f" stroke-width="1" stroke-linejoin="round"/>
<path d="M238.50 130.90L241.80 124.50L235.20 124.50Z" fill="#80f87c" stroke="#2f5f2f" stroke-width="1" stroke-linejoin="round"/>
<path d="M243.50 129.90L246.80 123.50L240.20 123.50Z" fill="#80f87c" stroke="#2f5f2f" stroke-width="1" stroke-linejoin="round"/>
<path d="M248.50 129.90L251.80 123.50L245.20 123.50Z" fill="#80f87c" stroke="#2f5f2f" stroke-width="1" stroke-linejoin="round"/>
<path d="M253.50 129.90L256.80 123.50L250.20 123.50Z" fill="#80f87c" stroke="#2f5f2f" stroke-width="1" stroke-linejoin="round"/>
<path d="M258.50 128.90L261.80 122.50L255.20 122.50Z" fill="#80f87c" stroke="#2f5f2f" stroke-width="1" stroke-linejoin="round"/>
<path d="M263.50 128.90L266.80 122.50L260.20 122.50Z" fill="#80f87c" stroke="#2f5f2f" stroke-width="1" stroke-linejoin="round"/>
<path d="M268.50 128.90L271.80 122.50L265.20 122.50Z" fill="#80f87c" stroke="#2f5f2f" stroke-width="1" stroke-linejoin="round"/>
<path d="M273.50 127.90L276.80 121.50L270.20 121.50Z" fill="#80f87c" stroke="#2f5f2f" stroke-width="1" stroke-linejoin="round"/>
<path d="M278.50 127.90L281.80 121.50L275.20 121.50Z" fill="#80f87c" stroke="#2f5f2f" stroke-width="1" stroke-linejoin="round"/>
<path d="M283.50 127.90L286.80 121.50L280.20 121.50Z" fill="#80f87c" stroke="#2f5f2f" stroke-width="1" stroke-linejoin="round"/>
<path d="M288.50 126.90L291.80 120.50L285.20 120.50Z" fill="#80f87c" stroke="#2f5f2f" stroke-width="1" stroke-linejoin="round"/>
<path d="M293.50 126.90L296.80 120.50L290.20 120.50Z" fill="#80f87c" stroke="#2f5f2f" stroke-width="1" stroke-linejoin="round"/>
<path d="M298.50 126.90L301.80 120.50L295.20 120.50Z" fill="#80f87c" stroke="#2f5f2f" stroke-width="1" stroke-linejoin="round"/>
<path d="M303.50 126.90L306.80 120.50L300.20 120.50Z" fill="#80f87c" stroke="#2f5f2f" stroke-width="1" stroke-linejoin="round"/>
<path d="M308.50 126.90L311.80 120.50L305.20 120.50Z" fill="#80f87c" stroke="#2f5f2f" stroke-width="1" stroke-linejoin="round"/>
<path d="M313.50 125.90L316.80 119.50L310.20 119.50Z" fill="#80f87c" stroke="#2f5f2f" stroke-width="1" stroke-linejoin="round"/>
<path d="M319.50 125.90L322.80 119.50L316.20 119.50Z" fill="#80f87c" stroke="#2f5f2f" stroke-width="1" stroke-linejoin="round"/>
<path d="M324.50 125.90L327.80 119.50L321.20 119.50Z" fill="#80f87c" stroke="#2f5f2f" stroke-width="1" stroke-linejoin="round"/>
<path d="M329.50 125.90L332.80 119.50L326.20 119.50Z" fill="#80f87c" stroke="#2f5f2f" stroke-width="1" stroke-linejoin="round"/>
<path d="M334.50 125.90L337.80 119.50L331.20 119.50Z" fill="#80f87c" stroke="#2f5f2f" stroke-width="1" stroke-linejoin="round"/>
<path d="M339.50 125.90L342.80 119.50L336.20 119.50Z" fill="#80f87c" stroke="#2f5f2f" stroke-width="1" stroke-linejoin="round"/>
<path d="M344.50 125.90L347.80 119.50L341.20 119.50Z" fill="#80f87c" stroke="#2f5f2f" stroke-width="1" stroke-linejoin="round"/>
<path d="M349.50 125.90L352.80 119.50L346.20 119.50Z" fill="#80f87c" stroke="#2f5f2f" stroke-width="1" stroke-linejoin="round"/>
<path d="M354.50 125.90L357.80 119.50L351.20 119.50Z" fill="#80f87c" stroke="#2f5f2f" stroke-width="1" stroke-linejoin="round"/>
<path d="M359.50 124.90L362.80 118.50L356.20 118.50Z" fill="#80f87c" stroke="#2f5f2f" stroke-width="1" stroke-linejoin="round"/>
<path d="M364.50 124.90L367.80 118.50L361.20 118.50Z" fill="#80f87c" stroke="#2f5f2f" stroke-width="1" stroke-linejoin="round"/>
<path d="M369.50 124.90L372.80 118.50L366.20 118.50Z" fill="#80f87c" stroke="#2f5f2f" stroke-width="1" stroke-linejoin="round"/>
<path d="M374.50 124.90L377.80 118.50L371.20 118.50Z" fill="#80f87c" stroke="#2f5f2f" stroke-width="1" stroke-linejoin="round"/>
<path d="M379.50 124.90L382.80 118.50L376.20 118.50Z" fill="#80f87c" stroke="#2f5f2f" stroke-width="1" stroke-linejoin="round"/>
<path d="M384.50 124.90L387.80 118.50L381.20 118.50Z" fill="#80f87c" stroke="#2f5f2f" stroke-width="1" stroke-linejoin="round"/>
<path d="M389.50 124.90L392.80 118.50L386.20 118.50Z" fill="#80f87c" stroke="#2f5f2f" stroke-width="1" stroke-linejoin="round"/>
<path d="M394.50 124.90L397.80 118.50L391.20 118.50Z" fill="#80f87c" stroke="#2f5f2f" stroke-width="1" stroke-linejoin="round"/>
<path d="M399.50 124.90L402.80 118.50L396.20 118.50Z" fill="#80f87c" stroke="#2f5f2f" stroke-width="1" stroke-linejoin="round"/>
<path d="M404.50 124.90L407.80 118.50L401.20 118.50Z" fill="#80f87c" stroke="#2f5f2f" stroke-width="1" stroke-linejoin="round"/>
<path d="M409.50 124.90L412.80 118.50L406.20 118.50Z" fill="#80f87c" stroke="#2f5f2f" stroke-width="1" stroke-linejoin="round"/>
<path d="M414.50 123.90L417.80 117.50L411.20 117.50Z" fill="#80f87c" stroke="#2f5f2f" stroke-width="1" stroke-linejoin="round"/>
<path d="M419.50 123.90L422.80 117.50L416.20 117.50Z" fill="#80f87c" stroke="#2f5f2f" stroke-width="1" stroke-linejoin="round"/>
<path d="M424.50 123.90L427.80 117.50L421.20 117.50Z" fill="#80f87c" stroke="#2f5f2f" stroke-width="1" stroke-linejoin="round"/>
<path d="M429.50 123.90L432.80 117.50L426.20 117.50Z" fill="#80f87c" stroke="#2f5f2f" stroke-width="1" stroke-linejoin="round"/>
<path d="M434.50 123.90L437.80 117.50L431.20 117.50Z" fill="#80f87c" stroke="#2f5f2f" stroke-width="1" stroke-linejoin="round"/>
<path d="M439.50 123.90L442.80 117.50L436.20 117.50Z" fill="#80f87c" stroke="#2f5f2f" stroke-width="1" stroke-linejoin="round"/>
<path d="M444.50 123.90L447.80 117.50L441.20 117.50Z" fill="#80f87c" stroke="#2f5f2f" stroke-width="1" stroke-linejoin="round"/>
<path d="M449.50 123.90L452.80 117.50L446.20 117.50Z" fill="#80f87c" stroke="#2f5f2f" stroke-width="1" stroke-linejoin="round"/>
<path d="M454.50 123.90L457.80 117.50L451.20 117.50Z" fill="#80f87c" stroke="#2f5f2f" stroke-width="1" stroke-linejoin="round"/>
<path d="M460.50 123.90L463.80 117.50L457.20 117.50Z" fill="#80f87c" stroke="#2f5f2f" stroke-width="1" stroke-linejoin="round"/>
<path d="M465.50 123.90L468.80 117.50L462.20 117.50Z" fill="#80f87c" stroke="#2f5f2f" stroke-width="1" stroke-linejoin="round"/>
<path d="M470.50 123.90L473.80 117.50L467.20 117.50Z" fill="#80f87c" stroke="#2f5f2f" stroke-width="1" stroke-linejoin="round"/>
<path d="M475.50 123.90L478.80 117.50L472.20 117.50Z" fill="#80f87c" stroke="#2f5f2f" stroke-width="1" stroke-linejoin="round"/>
<path d="M480.50 123.90L483.80 117.50L477.20 117.50Z" fill="#80f87c" stroke="#2f5f2f" stroke-width="1" stroke-linejoin="round"/>
<path d="M485.50 123.90L488.80 117.50L482.20 117.50Z" fill="#80f87c" stroke="#2f5f2f" stroke-width="1" stroke-linejoin="round"/>
<path d="M490.50 123.90L493.80 117.50L487.20 117.50Z" fill="#80f87c" stroke="#2f5f2f" stroke-width="1" stroke-linejoin="round"/>
<path d="M495.50 123.90L498.80 117.50L492.20 117.50Z" fill="#80f87c" stroke="#2f5f2f" stroke-width="1" stroke-linejoin="round"/>
<path d="M500.50 123.90L503.80 117.50L497.20 117.50Z" fill="#80f87c" stroke="#2f5f2f" stroke-width="1" stroke-linejoin="round"/>
<path d="M505.50 123.90L508.80 117.50L502.20 117.50Z" fill="#80f87c" stroke="#2f5f2f" stroke-width="1" stroke-linejoin="round"/>
<path d="M510.50 123.90L513.80 117.50L507.20 117.50Z" fill="#80f87c" stroke="#2f5f2f" stroke-width="1" stroke-linejoin="round"/>
<path d="M515.50 123.90L518.80 117.50L512.20 117.50Z" fill="#80f87c" stroke="#2f5f2f" stroke-width="1" stroke-linejoin="round"/>
<path d="M520.50 123.90L523.80 117.50L517.20 117.50Z" fill="#80f87c" stroke="#2f5f2f" stroke-width="1" stroke-linejoin="round"/>
<path d="M525.50 123.90L528.80 117.50L522.20 117.50Z" fill="#80f87c" stroke="#2f5f2f" stroke-width="1" stroke-linejoin="round"/>
<path d="M530.50 123.90L533.80 117.50L527.20 117.50Z" fill="#80f87c" stroke="#2f5f2f" stroke-width="1" stroke-linejoin="round"/>
<path d="M535.50 123.90L538.80 117.50L532.20 117.50Z" fill="#80f87c" stroke="#2f5f2f" stroke-width="1" stroke-linejoin="round"/>
<path d="M540.50 123.90L543.80 117.50L537.20 117.50Z" fill="#80f87c" stroke="#2f5f2f" stroke-width="1" stroke-linejoin="round"/>
<path d="M545.50 123.90L548.80 117.50L542.20 117.50Z" fill="#80f87c" stroke="#2f5f2f" stroke-width="1" stroke-linejoin="round"/>
<path d="M550.50 122.90L553.80 116.50L547.20 116.50Z" fill="#80f87c" stroke="#2f5f2f" stroke-width="1" stroke-linejoin="round"/>
<path d="M555.50 122.90L558.80 116.50L552.20 116.50Z" fill="#80f87c" stroke="#2f5f2f" stroke-width="1" stroke-linejoin="round"/>
<path d="M560.50 122.90L563.80 116.50L557.20 116.50Z" fill="#80f87c" stroke="#2f5f2f" stroke-width="1" stroke-linejoin="round"/>
<path d="M565.50 122.90L568.80 116.50L562.20 116.50Z" fill="#80f87c" stroke="#2f5f2f" stroke-width="1" stroke-linejoin="round"/>
<path d="M570.50 122.90L573.80 116.50L567.20 116.50Z" fill="#80f87c" stroke="#2f5f2f" stroke-width="1" stroke-linejoin="round"/>
<path d="M67.50 258.10L70.80 264.50L64.20 264.50Z" fill="#ee5468" stroke="#5e2430" stroke-width="1" stroke-linejoin="round"/>
<path d="M72.50 176.10L75.80 182.50L69.20 182.50Z" fill="#ee5468" stroke="#5e2430" stroke-width="1" stroke-linejoin="round"/>
<path d="M77.50 165.10L80.80 171.50L74.20 171.50Z" fill="#ee5468" stroke="#5e2430" stroke-width="1" stroke-linejoin="round"/>
<path d="M82.50 169.10L85.80 175.50L79.20 175.50Z" fill="#ee5468" stroke="#5e2430" stroke-width="1" stroke-linejoin="round"/>
<path d="M87.50 175.10L90.80 181.50L84.20 181.50Z" fill="#ee5468" stroke="#5e2430" stroke-width="1" stroke-linejoin="round"/>
<path d="M92.50 180.10L95.80 186.50L89.20 186.50Z" fill="#ee5468" stroke="#5e2430" stroke-width="1" stroke-linejoin="round"/>
<path d="M97.50 185.10L100.80 191.50L94.20 191.50Z" fill="#ee5468" stroke="#5e2430" stroke-width="1" stroke-linejoin="round"/>
<path d="M102.50 190.10L105.80 196.50L99.20 196.50Z" fill="#ee5468" stroke="#5e2430" stroke-width="1" stroke-linejoin="round"/>
<path d="M107.50 193.10L110.80 199.50L104.20 199.50Z" fill="#ee5468" stroke="#5e2430" stroke-width="1" stroke-linejoin="round"/>
<path d="M112.50 196.10L115.80 202.50L109.20 202.50Z" fill="#ee5468" stroke="#5e2430" stroke-width="1" stroke-linejoin="round"/>
<path d="M117.50 200.10L120.80 206.50L114.20 206.50Z" fill="#ee5468" stroke="#5e2430" stroke-width="1" stroke-linejoin="round"/>
<path d="M122.50 202.10L125.80 208.50L119.20 208.50Z" fill="#ee5468" stroke="#5e2430" stroke-width="1" stroke-linejoin="round"/>
<path d="M127.50 204.10L130.80 210.50L124.20 210.50Z" fill="#ee5468" stroke="#5e2430" stroke-width="1" stroke-linejoin="round"/>
<path d="M132.50 206.10L135.80 212.50L129.20 212.50Z" fill="#ee5468" stroke="#5e2430" stroke-width="1" stroke-linejoin="round"/>
<path d="M137.50 208.10L140.80 214.50L134.20 214.50Z" fill="#ee5468" stroke="#5e2430" stroke-width="1" stroke-linejoin="round"/>
<path d="M142.50 209.10L145.80 215.50L139.20 215.50Z" fill="#ee5468" stroke="#5e2430" stroke-width="1" stroke-linejoin="round"/>
<path d="M147.50 211.10L150.80 217.50L144.20 217.50Z" fill="#ee5468" stroke="#5e2430" stroke-width="1" stroke-linejoin="round"/>
<path d="M152.50 212.10L155.80 218.50L149.20 218.50Z" fill="#ee5468" stroke="#5e2430" stroke-width="1" stroke-linejoin="round"/>
<path d="M157.50 213.10L160.80 219.50L154.20 219.50Z" fill="#ee5468" stroke="#5e2430" stroke-width="1" stroke-linejoin="round"/>
<path d="M162.50 213.10L165.80 219.50L159.20 219.50Z" fill="#ee5468" stroke="#5e2430" stroke-width="1" stroke-linejoin="round"/>
<path d="M167.50 214.10L170.80 220.50L164.20 220.50Z" fill="#ee5468" stroke="#5e2430" stroke-width="1" stroke-linejoin="round"/>
<path d="M172.50 214.10L175.80 220.50L169.20 220.50Z" fill="#ee5468" stroke="#5e2430" stroke-width="1" stroke-linejoin="round"/>
<path d="M178.50 215.10L181.80 221.50L175.20 221.50Z" fill="#ee5468" stroke="#5e2430" stroke-width="1" stroke-linejoin="round"/>
<path d="M183.50 215.10L186.80 221.50L180.20 221.50Z" fill="#ee5468" stroke="#5e2430" stroke-width="1" stroke-linejoin="round"/>
<path d="M188.50 216.10L191.80 222.50L185.20 222.50Z" fill="#ee5468" stroke="#5e2430" stroke-width="1" stroke-linejoin="round"/>
<path d="M193.50 216.10L196.80 222.50L190.20 222.50Z" fill="#ee5468" stroke="#5e2430" stroke-width="1" stroke-linejoin="round"/>
<path d="M198.50 217.10L201.80 223.50L195.20 223.50Z" fill="#ee5468" stroke="#5e2430" stroke-width="1" stroke-linejoin="round"/>
<path d="M203.50 217.10L206.80 223.50L200.20 223.50Z" fill="#ee5468" stroke="#5e2430" stroke-width="1" stroke-linejoin="round"/>
<path d="M208.50 217.10L211.80 223.50L205.20 223.50Z" fill="#ee5468" stroke="#5e2430" stroke-width="1" stroke-linejoin="round"/>
<path d="M213.50 218.10L216.80 224.50L210.20 224.50Z" fill="#ee5468" stroke="#5e2430" stroke-width="1" stroke-linejoin="round"/>
<path d="M218.50 218.10L221.80 224.50L215.20 224.50Z" fill="#ee5468" stroke="#5e2430" stroke-width="1" stroke-linejoin="round"/>
<path d="M223.50 218.10L226.80 224.50L220.20 224.50Z" fill="#ee5468" stroke="#5e2430" stroke-width="1" stroke-linejoin="round"/>
<path d="M228.50 218.10L231.80 224.50L225.20 224.50Z" fill="#ee5468" stroke="#5e2430" stroke-width="1" stroke-linejoin="round"/>
<path d="M233.50 219.10L236.80 225.50L230.20 225.50Z" fill="#ee5468" stroke="#5e2430" stroke-width="1" stroke-linejoin="round"/>
<path d="M238.50 219.10L241.80 225.50L235.20 225.50Z" fill="#ee5468" stroke="#5e2430" stroke-width="1" stroke-linejoin="round"/>
<path d="M243.50 219.10L246.80 225.50L240.20 225.50Z" fill="#ee5468" stroke="#5e2430" stroke-width="1" stroke-linejoin="round"/>
<path d="M248.50 219.10L251.80 225.50L245.20 225.50Z" fill="#ee5468" stroke="#5e2430" stroke-width="1" stroke-linejoin="round"/>
<path d="M253.50 219.10L256.80 225.50L250.20 225.50Z" fill="#ee5468" stroke="#5e2430" stroke-width="1" stroke-linejoin="round"/>
<path d="M258.50 220.10L261.80 226.50L255.20 226.50Z" fill="#ee5468" stroke="#5e2430" stroke-width="1" stroke-linejoin="round"/>
<path d="M263.50 220.10L266.80 226.50L260.20 226.50Z" fill="#ee5468" stroke="#5e2430" stroke-width="1" stroke-linejoin="round"/>
<path d="M268.50 220.10L271.80 226.50L265.20 226.50Z" fill="#ee5468" stroke="#5e2430" stroke-width="1" stroke-linejoin="round"/>
<path d="M273.50 220.10L276.80 226.50L270.20 226.50Z" fill="#ee5468" stroke="#5e2430" stroke-width="1" stroke-linejoin="round"/>
<path d="M278.50 220.10L281.80 226.50L275.20 226.50Z" fill="#ee5468" stroke="#5e2430" stroke-width="1" stroke-linejoin="round"/>
<path d="M283.50 220.10L286.80 226.50L280.20 226.50Z" fill="#ee5468" stroke="#5e2430" stroke-width="1" stroke-linejoin="round"/>
<path d="M288.50 221.10L291.80 227.50L285.20 227.50Z" fill="#ee5468" stroke="#5e2430" stroke-width="1" stroke-linejoin="round"/>
<path d="M293.50 221.10L296.80 227.50L290.20 227.50Z" fill="#ee5468" stroke="#5e2430" stroke-width="1" stroke-linejoin="round"/>
<path d="M298.50 221.10L301.80 227.50L295.20 227.50Z" fill="#ee5468" stroke="#5e2430" stroke-width="1" stroke-linejoin="round"/>
<path d="M303.50 221.10L306.80 227.50L300.20 227.50Z" fill="#ee5468" stroke="#5e2430" stroke-width="1" stroke-linejoin="round"/>
<path d="M308.50 221.10L311.80 227.50L305.20 227.50Z" fill="#ee5468" stroke="#5e2430" stroke-width="1" stroke-linejoin="round"/>
<path d="M313.50 221.10L316.80 227.50L310.20 227.50Z" fill="#ee5468" stroke="#5e2430" stroke-width="1" stroke-linejoin="round"/>
<path d="M319.50 221.10L322.80 227.50L316.20 227.50Z" fill="#ee5468" stroke="#5e2430" stroke-width="1" stroke-linejoin="round"/>
<path d="M324.50 222.10L327.80 228.50L321.20 228.50Z" fill="#ee5468" stroke="#5e2430" stroke-width="1" stroke-linejoin="round"/>
<path d="M329.50 222.10L332.80 228.50L326.20 228.50Z" fill="#ee5468" stroke="#5e2430" stroke-width="1" stroke-linejoin="round"/>
<path d="M334.50 222.10L337.80 228.50L331.20 228.50Z" fill="#ee5468" stroke="#5e2430" stroke-width="1" stroke-linejoin="round"/>
<path d="M339.50 222.10L342.80 228.50L336.20 228.50Z" fill="#ee5468" stroke="#5e2430" stroke-width="1" stroke-linejoin="round"/>
<path d="M344.50 222.10L347.80 228.50L341.20 228.50Z" fill="#ee5468" stroke="#5e2430" stroke-width="1" stroke-linejoin="round"/>
<path d="M349.50 222.10L352.80 228.50L346.20 228.50Z" fill="#ee5468" stroke="#5e2430" stroke-width="1" stroke-linejoin="round"/>
<path d="M354.50 222.10L357.80 228.50L351.20 228.50Z" fill="#ee5468" stroke="#5e2430" stroke-width="1" stroke-linejoin="round"/>
<path d="M359.50 222.10L362.80 228.50L356.20 228.50Z" fill="#ee5468" stroke="#5e2430" stroke-width="1" stroke-linejoin="round"/>
<path d="M364.50 222.10L367.80 228.50L361.20 228.50Z" fill="#ee5468" stroke="#5e2430" stroke-width="1" stroke-linejoin="round"/>
<path d="M369.50 222.10L372.80 228.50L366.20 228.50Z" fill="#ee5468" stroke="#5e2430" stroke-width="1" stroke-linejoin="round"/>
<path d="M374.50 222.10L377.80 228.50L371.20 228.50Z" fill="#ee5468" stroke="#5e2430" stroke-width="1" stroke-linejoin="round"/>
<path d="M379.50 223.10L382.80 229.50L376.20 229.50Z" fill="#ee5468" stroke="#5e2430" stroke-width="1" stroke-linejoin="round"/>
<path d="M384.50 223.10L387.80 229.50L381.20 229.50Z" fill="#ee5468" stroke="#5e2430" stroke-width="1" stroke-linejoin="round"/>
<path d="M389.50 223.10L392.80 229.50L386.20 229.50Z" fill="#ee5468" stroke="#5e2430" stroke-width="1" stroke-linejoin="round"/>
<path d="M394.50 223.10L397.80 229.50L391.20 229.50Z" fill="#ee5468" stroke="#5e2430" stroke-width="1" stroke-linejoin="round"/>
<path d="M399.50 223.10L402.80 229.50L396.20 229.50Z" fill="#ee5468" stroke="#5e2430" stroke-width="1" stroke-linejoin="round"/>
<path d="M404.50 223.10L407.80 229.50L401.20 229.50Z" fill="#ee5468" stroke="#5e2430" stroke-width="1" stroke-linejoin="round"/>
<path d="M409.50 223.10L412.80 229.50L406.20 229.50Z" fill="#ee5468" stroke="#5e2430" stroke-width="1" stroke-linejoin="round"/>
<path d="M414.50 223.10L417.80 229.50L411.20 229.50Z" fill="#ee5468" stroke="#5e2430" stroke-width="1" stroke-linejoin="round"/>
<path d="M419.50 223.10L422.80 229.50L416.20 229.50Z" fill="#ee5468" stroke="#5e2430" stroke-width="1" stroke-linejoin="round"/>
<path d="M424.50 223.10L427.80 229.50L421.20 229.50Z" fill="#ee5468" stroke="#5e2430" stroke-width="1" stroke-linejoin="round"/>
<path d="M429.50 223.10L432.80 229.50L426.20 229.50Z" fill="#ee5468" stroke="#5e2430" stroke-width="1" stroke-linejoin="round"/>
<path d="M434.50 223.10L437.80 229.50L431.20 229.50Z" fill="#ee5468" stroke="#5e2430" stroke-width="1" stroke-linejoin="round"/>
<path d="M439.50 223.10L442.80 229.50L436.20 229.50Z" fill="#ee5468" stroke="#5e2430" stroke-width="1" stroke-linejoin="round"/>
<path d="M444.50 223.10L447.80 229.50L441.20 229.50Z" fill="#ee5468" stroke="#5e2430" stroke-width="1" stroke-linejoin="round"/>
<path d="M449.50 223.10L452.80 229.50L446.20 229.50Z" fill="#ee5468" stroke="#5e2430" stroke-width="1" stroke-linejoin="round"/>
<path d="M454.50 223.10L457.80 229.50L451.20 229.50Z" fill="#ee5468" stroke="#5e2430" stroke-width="1" stroke-linejoin="round"/>
<path d="M460.50 223.10L463.80 229.50L457.20 229.50Z" fill="#ee5468" stroke="#5e2430" stroke-width="1" stroke-linejoin="round"/>
<path d="M465.50 223.10L468.80 229.50L462.20 229.50Z" fill="#ee5468" stroke="#5e2430" stroke-width="1" stroke-linejoin="round"/>
<path d="M470.50 223.10L473.80 229.50L467.20 229.50Z" fill="#ee5468" stroke="#5e2430" stroke-width="1" stroke-linejoin="round"/>
<path d="M475.50 224.10L478.80 230.50L472.20 230.50Z" fill="#ee5468" stroke="#5e2430" stroke-width="1" stroke-linejoin="round"/>
<path d="M480.50 224.10L483.80 230.50L477.20 230.50Z" fill="#ee5468" stroke="#5e2430" stroke-width="1" stroke-linejoin="round"/>
<path d="M485.50 224.10L488.80 230.50L482.20 230.50Z" fill="#ee5468" stroke="#5e2430" stroke-width="1" stroke-linejoin="round"/>
<path d="M490.50 224.10L493.80 230.50L487.20 230.50Z" fill="#ee5468" stroke="#5e2430" stroke-width="1" stroke-linejoin="round"/>
<path d="M495.50 224.10L498.80 230.50L492.20 230.50Z" fill="#ee5468" stroke="#5e2430" stroke-width="1" stroke-linejoin="round"/>
<path d="M500.50 224.10L503.80 230.50L497.20 230.50Z" fill="#ee5468" stroke="#5e2430" stroke-width="1" stroke-linejoin="round"/>
<path d="M505.50 224.10L508.80 230.50L502.20 230.50Z" fill="#ee5468" stroke="#5e2430" stroke-width="1" stroke-linejoin="round"/>
<path d="M510.50 224.10L513.80 230.50L507.20 230.50Z" fill="#ee5468" stroke="#5e2430" stroke-width="1" stroke-linejoin="round"/>
<path d="M515.50 224.10L518.80 230.50L512.20 230.50Z" fill="#ee5468" stroke="#5e2430" stroke-width="1" stroke-linejoin="round"/>
<path d="M520.50 224.10L523.80 230.50L517.20 230.50Z" fill="#ee5468" stroke="#5e2430" stroke-width="1" stroke-linejoin="round"/>
<path d="M525.50 224.10L528.80 230.50L522.20 230.50Z" fill="#ee5468" stroke="#5e2430" stroke-width="1" stroke-linejoin="round"/>
<path d="M530.50 224.10L533.80 230.50L527.20 230.50Z" fill="#ee5468" stroke="#5e2430" stroke-width="1" stroke-linejoin="round"/>
<path d="M535.50 224.10L538.80 230.50L532.20 230.50Z" fill="#ee5468" stroke="#5e2430" stroke-width="1" stroke-linejoin="round"/>
<path d="M540.50 224.10L543.80 230.50L537.20 230.50Z" fill="#ee5468" stroke="#5e2430" stroke-width="1" stroke-linejoin="round"/>
<path d="M545.50 224.10L548.80 230.50L542.20 230.50Z" fill="#ee5468" stroke="#5e2430" stroke-width="1" stroke-linejoin="round"/>
<path d="M550.50 224.10L553.80 230.50L547.20 230.50Z" fill="#ee5468" stroke="#5e2430" stroke-width="1" stroke-linejoin="round"/>
<path d="M555.50 224.10L558.80 230.50L552.20 230.50Z" fill="#ee5468" stroke="#5e2430" stroke-width="1" stroke-linejoin="round"/>
<path d="M560.50 224.10L563.80 230.50L557.20 230.50Z" fill="#ee5468" stroke="#5e2430" stroke-width="1" stroke-linejoin="round"/>
<path d="M565.50 224.10L568.80 230.50L562.20 230.50Z" fill="#ee5468" stroke="#5e2430" stroke-width="1" stroke-linejoin="round"/>
<path d="M570.50 224.10L573.80 230.50L567.20 230.50Z" fill="#ee5468" stroke="#5e2430" stroke-width="1" stroke-linejoin="round"/>
<line x1="601" y1="137.80" x2="617" y2="137.80" stroke="#a8d2f2" stroke-width="1"/>
<rect x="606.70" y="134.80" width="6" height="6" fill="#50a6e2" stroke="#264c6c" stroke-width="1"/>
<text x="620.8" y="140.80" font-size="8.6" fill="#2a2a2a" font-family="Liberation Sans, sans-serif" textLength="43.0" lengthAdjust="spacingAndGlyphs">diclofenac</text>
<line x1="601" y1="151.87" x2="617" y2="151.87" stroke="#f5a3b2" stroke-width="1"/>
<path d="M609.70 148.47L613.00 154.87L606.40 154.87Z" fill="#ee5468" stroke="#5e2430" stroke-width="1" stroke-linejoin="round"/>
<text x="620.8" y="154.87" font-size="8.6" fill="#2a2a2a" font-family="Liberation Sans, sans-serif" textLength="62.6" lengthAdjust="spacingAndGlyphs">diclofenac+PPI</text>
<line x1="601" y1="165.94" x2="617" y2="165.94" stroke="#f7d08e" stroke-width="1"/>
<circle cx="609.70" cy="165.94" r="3.4" fill="#ebab36" stroke="#5e4618" stroke-width="1"/>
<text x="620.8" y="168.94" font-size="8.6" fill="#2a2a2a" font-family="Liberation Sans, sans-serif" textLength="39.5" lengthAdjust="spacingAndGlyphs">imrecoxib</text>
<line x1="601" y1="180.01" x2="617" y2="180.01" stroke="#a8f0a4" stroke-width="1"/>
<path d="M609.70 183.41L613.00 177.01L606.40 177.01Z" fill="#80f87c" stroke="#2f5f2f" stroke-width="1" stroke-linejoin="round"/>
<text x="620.8" y="183.01" font-size="8.6" fill="#2a2a2a" font-family="Liberation Sans, sans-serif" textLength="59.6" lengthAdjust="spacingAndGlyphs">imrecoxib+PPI</text>
<text x="99.20" y="328.2" font-size="14" font-weight="bold" fill="#111" stroke="#111" stroke-width="0.35" font-family="Liberation Sans, sans-serif" textLength="30.80" lengthAdjust="spacingAndGlyphs">Cost</text>
<text x="134.90" y="328.2" font-size="14" font-weight="bold" fill="#111" stroke="#111" stroke-width="0.35" font-family="Liberation Sans, sans-serif" textLength="94.50" lengthAdjust="spacingAndGlyphs">effectiveness</text>
<text x="234.30" y="328.2" font-size="14" font-weight="bold" fill="#111" stroke="#111" stroke-width="0.35" font-family="Liberation Sans, sans-serif" textLength="73.90" lengthAdjust="spacingAndGlyphs">threshold(</text>
<text x="310.40" y="328.2" font-size="14" font-weight="bold" fill="#111" stroke="#111" stroke-width="0.35" font-family="Liberation Sans, sans-serif" textLength="9.60" lengthAdjust="spacingAndGlyphs">$</text>
<text x="325.00" y="328.2" font-size="14" font-weight="bold" fill="#111" stroke="#111" stroke-width="0.35" font-family="Liberation Sans, sans-serif" textLength="22.50" lengthAdjust="spacingAndGlyphs">per</text>
<text x="351.90" y="328.2" font-size="14" font-weight="bold" fill="#111" stroke="#111" stroke-width="0.35" font-family="Liberation Sans, sans-serif" textLength="49.00" lengthAdjust="spacingAndGlyphs">quality</text>
<text x="407.20" y="328.2" font-size="14" font-weight="bold" fill="#111" stroke="#111" stroke-width="0.35" font-family="Liberation Sans, sans-serif" textLength="60.70" lengthAdjust="spacingAndGlyphs">adjusted</text>
<text x="472.90" y="328.2" font-size="14" font-weight="bold" fill="#111" stroke="#111" stroke-width="0.35" font-family="Liberation Sans, sans-serif" textLength="23.00" lengthAdjust="spacingAndGlyphs">life</text>
<text x="501.70" y="328.2" font-size="14" font-weight="bold" fill="#111" stroke="#111" stroke-width="0.35" font-family="Liberation Sans, sans-serif" textLength="37.30" lengthAdjust="spacingAndGlyphs">year)</text>
<text transform="translate(11.4 312.60) rotate(-90)" font-size="14" font-weight="bold" fill="#111" stroke="#111" stroke-width="0.35" font-family="Liberation Sans, sans-serif" textLength="76.70" lengthAdjust="spacingAndGlyphs">Probability</text>
<text transform="translate(11.4 231.70) rotate(-90)" font-size="14" font-weight="bold" fill="#111" stroke="#111" stroke-width="0.35" font-family="Liberation Sans, sans-serif" textLength="30.50" lengthAdjust="spacingAndGlyphs">that</text>
<text transform="translate(11.4 197.40) rotate(-90)" font-size="14" font-weight="bold" fill="#111" stroke="#111" stroke-width="0.35" font-family="Liberation Sans, sans-serif" textLength="23.80" lengthAdjust="spacingAndGlyphs">the</text>
<text transform="translate(11.4 168.30) rotate(-90)" font-size="14" font-weight="bold" fill="#111" stroke="#111" stroke-width="0.35" font-family="Liberation Sans, sans-serif" textLength="72.20" lengthAdjust="spacingAndGlyphs">treatment</text>
<text transform="translate(11.4 91.20) rotate(-90)" font-size="14" font-weight="bold" fill="#111" stroke="#111" stroke-width="0.35" font-family="Liberation Sans, sans-serif" textLength="11.10" lengthAdjust="spacingAndGlyphs">is</text>
<text transform="translate(11.4 75.50) rotate(-90)" font-size="14" font-weight="bold" fill="#111" stroke="#111" stroke-width="0.35" font-family="Liberation Sans, sans-serif" textLength="24.40" lengthAdjust="spacingAndGlyphs">the</text>
<text transform="translate(11.4 46.50) rotate(-90)" font-size="14" font-weight="bold" fill="#111" stroke="#111" stroke-width="0.35" font-family="Liberation Sans, sans-serif" textLength="35.40" lengthAdjust="spacingAndGlyphs">most</text>
<text transform="translate(26.5 313.70) rotate(-90)" font-size="14" font-weight="bold" fill="#111" stroke="#111" stroke-width="0.35" font-family="Liberation Sans, sans-serif" textLength="125.50" lengthAdjust="spacingAndGlyphs">cost-effective(%)</text>
</svg></body></html>
